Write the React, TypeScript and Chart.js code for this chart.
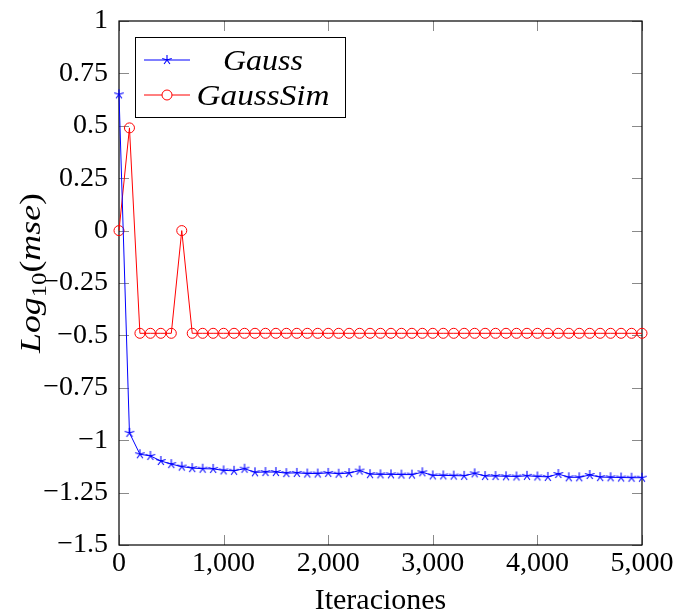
import React, { useEffect, useRef } from 'react';
import { Chart, registerables } from 'chart.js';

Chart.register(...registerables);

const iterations = [
  0, 100, 200, 300, 400, 500, 600, 700, 800, 900,
  1000, 1100, 1200, 1300, 1400, 1500, 1600, 1700, 1800, 1900,
  2000, 2100, 2200, 2300, 2400, 2500, 2600, 2700, 2800, 2900,
  3000, 3100, 3200, 3300, 3400, 3500, 3600, 3700, 3800, 3900,
  4000, 4100, 4200, 4300, 4400, 4500, 4600, 4700, 4800, 4900,
  5000,
];

const gauss = [
  0.65, -0.965, -1.067, -1.075, -1.099, -1.114, -1.126, -1.133, -1.136, -1.137,
  -1.144, -1.146, -1.136, -1.153, -1.152, -1.152, -1.157, -1.156, -1.159, -1.159,
  -1.156, -1.160, -1.157, -1.145, -1.162, -1.163, -1.163, -1.164, -1.164, -1.153,
  -1.168, -1.168, -1.169, -1.170, -1.158, -1.171, -1.171, -1.172, -1.173, -1.170,
  -1.173, -1.175, -1.161, -1.177, -1.177, -1.166, -1.176, -1.177, -1.178, -1.179,
  -1.179,
];

const gaussSim = [
  0, 0.49, -0.49, -0.49, -0.49, -0.49, 0, -0.49, -0.49, -0.49,
  -0.49, -0.49, -0.49, -0.49, -0.49, -0.49, -0.49, -0.49, -0.49, -0.49,
  -0.49, -0.49, -0.49, -0.49, -0.49, -0.49, -0.49, -0.49, -0.49, -0.49,
  -0.49, -0.49, -0.49, -0.49, -0.49, -0.49, -0.49, -0.49, -0.49, -0.49,
  -0.49, -0.49, -0.49, -0.49, -0.49, -0.49, -0.49, -0.49, -0.49, -0.49,
  -0.49,
];

const seriesNames = ['Gauss', 'GaussSim'];
const xTicks = [0, 1000, 2000, 3000, 4000, 5000];
const yTicks = [1, 0.75, 0.5, 0.25, 0, -0.25, -0.5, -0.75, -1, -1.25, -1.5];
const xTitle = 'Iteraciones';

const BLUE = '#0000ff';
const RED = '#ff0000';
const SERIF = "'Liberation Serif', 'Times New Roman', serif";

function makeStar(color: string, r: number): HTMLCanvasElement {
  const size = Math.ceil(r * 2 + 4);
  const c = document.createElement('canvas');
  c.width = size;
  c.height = size;
  const ctx = c.getContext('2d')!;
  ctx.strokeStyle = color;
  ctx.lineWidth = 1.1;
  const cx = size / 2;
  const cy = size / 2;
  ctx.beginPath();
  for (let i = 0; i < 5; i++) {
    const a = -Math.PI / 2 + (i * 2 * Math.PI) / 5;
    ctx.moveTo(cx, cy);
    ctx.lineTo(cx + r * Math.cos(a), cy + r * Math.sin(a));
  }
  ctx.stroke();
  return c;
}

function fmtY(v: number): string {
  return String(v).replace('-', '\u2212');
}

function fmtX(v: number): string {
  return v.toLocaleString('en-US');
}

function drawRuns(
  ctx: CanvasRenderingContext2D,
  runs: Array<[string, string, number]>,
  cx: number,
  cy: number,
  targetWidth: number | null,
  rotate: boolean
) {
  ctx.save();
  let total = 0;
  const widths = runs.map(([t, f]) => {
    ctx.font = f;
    const w = ctx.measureText(t).width;
    total += w;
    return w;
  });
  const sx = targetWidth ? targetWidth / total : 1;
  ctx.translate(cx, cy);
  if (rotate) ctx.rotate(-Math.PI / 2);
  ctx.scale(sx, 1);
  ctx.textBaseline = 'alphabetic';
  ctx.textAlign = 'left';
  ctx.fillStyle = '#000';
  let x = -total / 2;
  runs.forEach(([t, f, dy], i) => {
    ctx.font = f;
    ctx.fillText(t, x, dy);
    x += widths[i];
  });
  ctx.restore();
}

const TARGET = { left: 119, top: 21, right: 642, bottom: 545 };

export default function App() {
  const ref = useRef<HTMLCanvasElement | null>(null);

  useEffect(() => {
    const canvas = ref.current;
    if (!canvas) return;
    const star = makeStar(BLUE, 5);

    const framePlugin = {
      id: 'framePlugin',
      beforeDatasetsDraw(chart: any) {
        const { ctx, chartArea } = chart;
        const { left, right, top, bottom } = chartArea;
        const xs = chart.scales.x;
        const ys = chart.scales.y;
        ctx.save();
        ctx.strokeStyle = '#8a8a8a';
        ctx.lineWidth = 1;
        ctx.beginPath();
        const tl = 10;
        xTicks.forEach((v) => {
          const px = Math.round(xs.getPixelForValue(v)) + 0.5;
          ctx.moveTo(px, bottom);
          ctx.lineTo(px, bottom - tl);
          ctx.moveTo(px, top);
          ctx.lineTo(px, top + tl);
        });
        yTicks.forEach((v) => {
          const py = Math.round(ys.getPixelForValue(v)) + 0.5;
          ctx.moveTo(left, py);
          ctx.lineTo(left + tl, py);
          ctx.moveTo(right, py);
          ctx.lineTo(right - tl, py);
        });
        ctx.stroke();
        ctx.strokeStyle = '#000';
        ctx.lineWidth = 1.2;
        ctx.strokeRect(left, top, right - left, bottom - top);
        ctx.restore();
      },
      afterDraw(chart: any) {
        const { ctx } = chart;
        ctx.save();
        const lx = 135.5;
        const ly = 37.5;
        const lw = 210;
        const lh = 80;
        ctx.fillStyle = '#fff';
        ctx.fillRect(lx, ly, lw, lh);
        ctx.strokeStyle = '#000';
        ctx.lineWidth = 1;
        ctx.strokeRect(lx, ly, lw, lh);
        const rows = [60, 95];
        const colors = [BLUE, RED];
        rows.forEach((ry, i) => {
          ctx.strokeStyle = colors[i];
          ctx.lineWidth = 1;
          ctx.beginPath();
          ctx.moveTo(144, ry);
          ctx.lineTo(190, ry);
          ctx.stroke();
          if (i === 0) {
            ctx.drawImage(star, 167 - star.width / 2, ry - star.height / 2);
          } else {
            ctx.fillStyle = '#fff';
            ctx.beginPath();
            ctx.arc(167, ry, 5, 0, Math.PI * 2);
            ctx.fill();
            ctx.stroke();
          }
        });
        const itFont = `italic 29px ${SERIF}`;
        drawRuns(ctx, [[seriesNames[0], itFont, 0]], 263, rows[0] + 10, 80, false);
        drawRuns(ctx, [[seriesNames[1], itFont, 0]], 263, rows[1] + 10, 133, false);

        drawRuns(
          ctx,
          [
            ['Log', itFont, 0],
            ['10', `20px ${SERIF}`, 6],
            ['(', `29px ${SERIF}`, 0],
            ['mse', itFont, 0],
            [')', `29px ${SERIF}`, 0],
          ],
          40,
          273,
          160,
          true
        );
        ctx.restore();
      },
    };

    const chart = new Chart(canvas, {
      type: 'line',
      data: {
        labels: iterations,
        datasets: [
          {
            label: seriesNames[0],
            data: iterations.map((x, i) => ({ x, y: gauss[i] })),
            borderColor: BLUE,
            backgroundColor: BLUE,
            borderWidth: 1,
            pointStyle: star as any,
            pointRadius: 5,
            pointHoverRadius: 5,
            tension: 0,
            clip: false as any,
          },
          {
            label: seriesNames[1],
            data: iterations.map((x, i) => ({ x, y: gaussSim[i] })),
            borderColor: RED,
            backgroundColor: 'rgba(0,0,0,0)',
            pointBackgroundColor: 'rgba(0,0,0,0)',
            pointBorderColor: RED,
            pointBorderWidth: 1,
            borderWidth: 1,
            pointStyle: 'circle',
            pointRadius: 5,
            pointHoverRadius: 5,
            tension: 0,
            clip: false as any,
          },
        ],
      },
      options: {
        responsive: false,
        animation: false,
        events: [],
        layout: { padding: { left: 0, top: 21, right: 34, bottom: 0 } },
        plugins: {
          legend: { display: false },
          tooltip: { enabled: false },
        },
        scales: {
          x: {
            type: 'linear',
            min: 0,
            max: 5000,
            grid: { display: false, drawTicks: false },
            border: { display: false },
            afterBuildTicks: (scale: any) => {
              scale.ticks = xTicks.map((v) => ({ value: v }));
            },
            afterFit: (scale: any) => {
              scale.height = 71;
            },
            ticks: {
              autoSkip: false,
              maxRotation: 0,
              padding: 2,
              color: '#000',
              font: { family: SERIF, size: 28 },
              callback: (v: any) => fmtX(Number(v)),
            },
            title: {
              display: true,
              text: xTitle,
              color: '#000',
              font: { family: SERIF, size: 30, lineHeight: 1 },
              padding: { top: 0, bottom: 0 },
            },
          },
          y: {
            type: 'linear',
            min: -1.5,
            max: 1,
            grid: { display: false, drawTicks: false },
            border: { display: false },
            afterBuildTicks: (scale: any) => {
              scale.ticks = yTicks.map((v) => ({ value: v }));
            },
            afterFit: (scale: any) => {
              scale.width = 119;
            },
            ticks: {
              autoSkip: false,
              padding: 11,
              color: '#000',
              font: { family: SERIF, size: 28, lineHeight: 0.5 },
              callback: (v: any) => fmtY(Number(v)),
            },
          },
        },
      },
      plugins: [framePlugin],
    } as any);

    for (let k = 0; k < 2; k++) {
      const ca = chart.chartArea;
      const p: any = (chart.options as any).layout.padding;
      p.left += TARGET.left - ca.left;
      p.top += TARGET.top - ca.top;
      p.right += ca.right - TARGET.right;
      p.bottom += ca.bottom - TARGET.bottom;
      chart.update();
    }

    return () => chart.destroy();
  }, []);

  return (
    <div style={{ position: 'fixed', left: 0, top: 0, width: 676, height: 616, background: '#fff' }}>
      <canvas ref={ref} width={676} height={616} style={{ display: 'block', width: 676, height: 616 }} />
    </div>
  );
}
